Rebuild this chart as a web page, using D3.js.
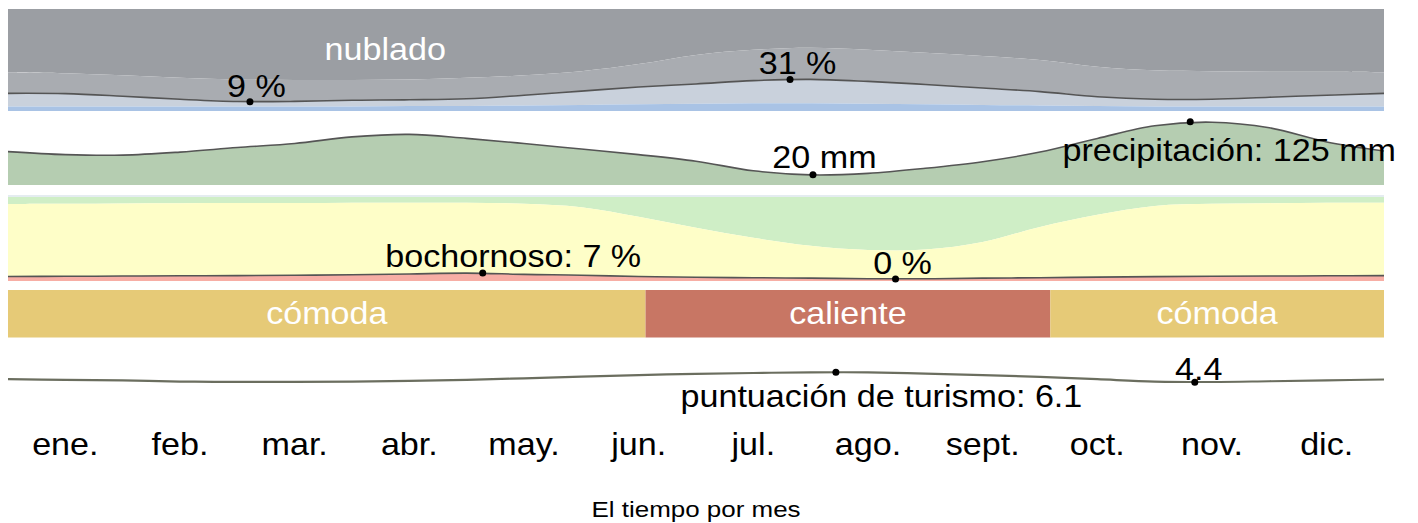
<!DOCTYPE html>
<html>
<head>
<meta charset="utf-8">
<script src="https://cdn.jsdelivr.net/npm/d3@7"></script>
<style>
  body { margin: 0; background: #fff; }
  svg { display: block; font-family: "Liberation Sans", Arial, sans-serif; }
</style>
</head>
<body>
<script>
var WIDTH = 1418;
var HEIGHT = 523;
var SX = 1.1; // text in the picture is a bit wider than tall

// months and sample positions (in months from 1 Jan)
var months = ["ene.", "feb.", "mar.", "abr.", "may.", "jun.", "jul.", "ago.", "sept.", "oct.", "nov.", "dic."];
var samples = [0, 0.5, 1, 1.5, 2, 2.5, 3, 3.5, 4, 4.5, 5, 5.5, 6, 6.5, 7, 7.5, 8, 8.5, 9, 9.5, 10, 10.5, 11, 11.5, 12];

// cloud cover bands, cumulative % from the bottom
var clearSky   = [4.5, 4.5, 4.5, 4.5, 4.5, 4.5, 4.5, 5, 5, 5.5, 6, 6.5, 7, 7.5, 7.5, 7, 6.5, 6, 5.5, 5, 4.5, 4.5, 4.5, 4.5, 4.5];
var clearish   = [17.3, 17, 14.5, 11.5, 9.3, 9.4, 10.5, 11, 12, 15.5, 19.5, 23.5, 26.5, 29.8, 31, 29, 26, 22.5, 19, 14, 11.5, 11.5, 13.5, 15.5, 17.3];
var overcastAt = [38, 37, 35, 32.5, 31, 30.5, 30.5, 31, 32.5, 35, 39, 46, 55, 60, 62, 60, 57, 54, 50, 43.5, 40, 39, 38.5, 38.5, 38];
var cloudMarks = [[2.11, 9], [6.82, 31]];

// precipitation, mm
var precip = [66, 60, 59, 65, 74, 82, 95, 100, 92, 82, 71, 60, 47, 28, 20, 23, 33, 46, 65, 92, 117, 124, 113, 85, 67];
var precipMarks = [[7.02, 20], [10.31, 125]];

// humidity comfort, cumulative % from the bottom
var comfortTop = [89.3, 89.5, 90, 90.3, 90.5, 90.5, 90.8, 90.8, 90.8, 89.5, 85.5, 74, 61, 49, 39.5, 34.5, 35, 44, 62, 76.5, 87, 89.5, 90.3, 90.8, 90.8];
var dryFrom = 97.6;
var muggy = [3, 3.2, 3.5, 3.8, 4, 4.5, 5, 6, 7, 5.5, 4.5, 3, 2, 1.5, 1, 0.3, 0.3, 1, 1.5, 2.2, 2.8, 3.2, 3.5, 3.8, 4];
var muggyMarks = [[4.14, 7], [7.74, 0]];

// temperature categories
var tempNames = ["cómoda", "caliente", "cómoda"];
var tempFrom = [0, 5.56, 9.09];
var tempTo = [5.56, 9.09, 12];

// tourism score
var tourism = [4.9, 4.8, 4.7, 4.5, 4.45, 4.45, 4.5, 4.6, 4.8, 5.05, 5.35, 5.6, 5.8, 5.95, 6.07, 6.05, 5.85, 5.6, 5.3, 4.9, 4.5, 4.42, 4.55, 4.7, 4.85];
var tourismMarks = [[7.22, 6.1], [10.35, 4.4]];

var rows = samples.map(function(m, i) {
  return { m: m, clear: clearSky[i], clearish: clearish[i], overcast: overcastAt[i],
           precip: precip[i], comfort: comfortTop[i], muggy: muggy[i], tourism: tourism[i] };
});

var svg = d3.select("body").append("svg").attr("width", WIDTH).attr("height", HEIGHT);

var x = d3.scaleLinear().domain([0, 12]).range([8, 1384]);
var cloudY = d3.scaleLinear().domain([0, 100]).range([111, 9]);
var precipY = d3.scaleLinear().domain([0, 125]).range([185, 121.7]);
var humY = d3.scaleLinear().domain([0, 100]).range([279, 195]);
var tourY = d3.scaleLinear().domain([0, 10]).range([408, 349.2]);
var curve = d3.curveCatmullRom.alpha(0.5);

var band = function(lo, hi) {
  return d3.area().curve(curve).x(function(d) { return x(d.m); }).y0(lo).y1(hi);
};
var line = function(fy) {
  return d3.line().curve(curve).x(function(d) { return x(d.m); }).y(fy);
};

var label = function(px, py, str, opts) {
  opts = opts || {};
  svg.append("text")
     .attr("transform", "translate(" + px + "," + py + ") scale(" + (opts.sx || SX) + ",1)")
     .attr("text-anchor", "middle")
     .attr("font-size", opts.size || 31)
     .attr("fill", opts.fill || "#000")
     .text(str);
};

var dot = function(px, py) {
  svg.append("circle").attr("cx", px).attr("cy", py).attr("r", 3.5).attr("fill", "#000");
};

// ---- clouds
svg.append("path").datum(rows).attr("fill", "#9b9ea3")
   .attr("d", band(function(d) { return cloudY(d.overcast); }, function() { return cloudY(100); }));
svg.append("path").datum(rows).attr("fill", "#a9acb1")
   .attr("d", band(function(d) { return cloudY(d.clearish); }, function(d) { return cloudY(d.overcast); }));
svg.append("path").datum(rows).attr("fill", "#c9d1dc")
   .attr("d", band(function(d) { return cloudY(d.clear); }, function(d) { return cloudY(d.clearish); }));
svg.append("path").datum(rows).attr("fill", "#a9c3e5")
   .attr("d", band(function() { return cloudY(0); }, function(d) { return cloudY(d.clear); }));
svg.append("path").datum(rows).attr("fill", "none").attr("stroke", "#555").attr("stroke-width", 1.6)
   .attr("d", line(function(d) { return cloudY(d.clearish); }));

label(x(3.29), cloudY(50), "nublado", { fill: "#fff" });
cloudMarks.forEach(function(c, i) {
  dot(x(c[0]), cloudY(c[1]));
  label(x(c[0]) + (i == 0 ? 6.5 : 7.5), cloudY(c[1]) - 5, c[1] + " %");
});

// ---- precipitation
svg.append("path").datum(rows).attr("fill", "#b5cdb1")
   .attr("d", band(function() { return precipY(0); }, function(d) { return precipY(d.precip); }));
svg.append("path").datum(rows).attr("fill", "none").attr("stroke", "#555").attr("stroke-width", 1.6)
   .attr("d", line(function(d) { return precipY(d.precip); }));

dot(x(precipMarks[0][0]), precipY(precipMarks[0][1]));
label(x(precipMarks[0][0]) + 11.5, precipY(precipMarks[0][1]) - 7, precipMarks[0][1] + " mm");
dot(x(precipMarks[1][0]), precipY(precipMarks[1][1]));
label(x(precipMarks[1][0]) + 39, precipY(precipMarks[1][1]) + 39, "precipitación: " + precipMarks[1][1] + " mm");

// ---- humidity comfort
svg.append("path").datum(rows).attr("fill", "#e4ecf0")
   .attr("d", band(function() { return humY(dryFrom); }, function() { return humY(100); }));
svg.append("path").datum(rows).attr("fill", "#cfeec6")
   .attr("d", band(function(d) { return humY(d.comfort); }, function() { return humY(dryFrom); }));
svg.append("path").datum(rows).attr("fill", "#fefec8")
   .attr("d", band(function(d) { return humY(d.muggy); }, function(d) { return humY(d.comfort); }));
svg.append("path").datum(rows).attr("fill", "#f7aea5")
   .attr("d", band(function() { return 281; }, function(d) { return humY(d.muggy); }));
svg.append("path").datum(rows).attr("fill", "none").attr("stroke", "#555").attr("stroke-width", 1.6)
   .attr("d", line(function(d) { return humY(d.muggy); }));

dot(x(muggyMarks[0][0]), humY(muggyMarks[0][1]));
label(x(muggyMarks[0][0]) + 30.5, humY(muggyMarks[0][1]) - 6, "bochornoso: " + muggyMarks[0][1] + " %");
dot(x(muggyMarks[1][0]), humY(muggyMarks[1][1]));
label(x(muggyMarks[1][0]) + 7, humY(muggyMarks[1][1]) - 5.5, muggyMarks[1][1] + " %");

// ---- temperature categories
var tempColor = d3.scaleOrdinal().domain(["cómoda", "caliente"]).range(["#e6ca77", "#c87664"]);
svg.selectAll("rect.temp")
   .data(tempNames)
   .enter()
   .append("rect")
   .classed("temp", true)
   .attr("x", function(d, i) { return x(tempFrom[i]); })
   .attr("width", function(d, i) { return x(tempTo[i]) - x(tempFrom[i]); })
   .attr("y", 290)
   .attr("height", 47.5)
   .attr("fill", function(d) { return tempColor(d); });
tempNames.forEach(function(t, i) {
  label((x(tempFrom[i]) + x(tempTo[i])) / 2, 324, t, { fill: "#fff" });
});

// ---- tourism score
svg.append("path").datum(rows).attr("fill", "none").attr("stroke", "#6b6e5f").attr("stroke-width", 2.2)
   .attr("d", line(function(d) { return tourY(d.tourism); }));
dot(x(tourismMarks[0][0]), tourY(tourismMarks[0][1]));
label(x(tourismMarks[0][0]) + 45.5, tourY(tourismMarks[0][1]) + 35, "puntuación de turismo: " + tourismMarks[0][1].toFixed(1));
dot(x(tourismMarks[1][0]), tourY(tourismMarks[1][1]));
label(x(tourismMarks[1][0]) + 4, tourY(tourismMarks[1][1]) - 2.5, tourismMarks[1][1].toFixed(1));

// ---- month axis
var axis = d3.axisBottom(x)
  .tickValues(months.map(function(m, i) { return i + 0.5; }))
  .tickFormat(function(d) { return months[Math.floor(d)]; })
  .tickSize(0)
  .tickPadding(0);
var ax = svg.append("g").attr("transform", "translate(0,455)").call(axis);
ax.select(".domain").remove();
ax.selectAll("text")
  .attr("dy", 0)
  .attr("y", 0)
  .attr("font-size", 31)
  .attr("font-family", "Liberation Sans, Arial, sans-serif")
  .attr("fill", "#000")
  .attr("transform", "scale(" + SX + ",1)")
  .attr("x", function(d) { return 0; });
ax.selectAll(".tick").attr("transform", function(d) { return "translate(" + x(d) + ",0)"; });

// ---- title
label(696, 517, "El tiempo por mes", { size: 22, sx: 1.18 });
</script>
</body>
</html>
